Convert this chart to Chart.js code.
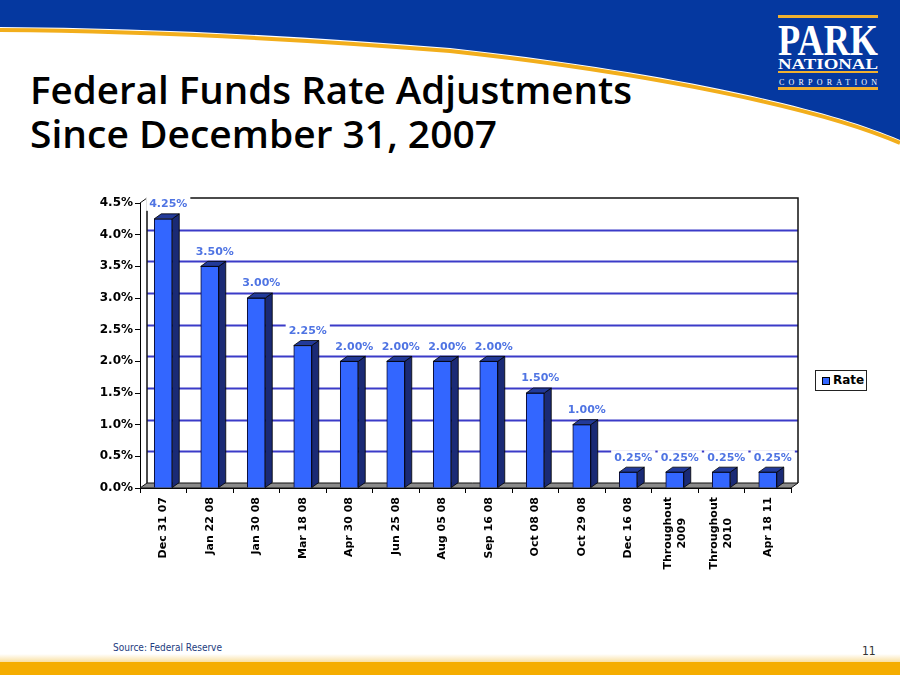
<!DOCTYPE html>
<html>
<head>
<meta charset="utf-8">
<script src="https://cdn.jsdelivr.net/npm/chart.js@4"></script>
<style>
  html, body { margin: 0; padding: 0; background: #fff; }
  #page { position: relative; width: 900px; height: 675px; overflow: hidden; }
  #bg { position: absolute; left: 0; top: 0; }
  #chart { position: absolute; left: 0; top: 0; }
  #legend {
    position: absolute; left: 815px; top: 370px; width: 50px; height: 19px;
    border: 1px solid #222; font: bold 12px "DejaVu Sans", sans-serif;
    line-height: 19px; color: #000; background: #fff;
  }
  #legend span.box {
    position: absolute; left: 6px; top: 6px; width: 6px; height: 6px;
    background: #3366ff; border: 1px solid #000;
  }
  #legend span.txt { position: absolute; left: 17px; top: 0; }
</style>
</head>
<body>
<div id="page">
  <svg id="bg" width="900" height="675" xmlns="http://www.w3.org/2000/svg">
    <defs>
      <linearGradient id="fade" x1="0" y1="0" x2="0" y2="1">
        <stop offset="0" stop-color="#ffffff"/>
        <stop offset="1" stop-color="#f9dc95"/>
      </linearGradient>
    </defs>
    <!-- header swoosh -->
    <path d="M0,0 H900 V140 C820,105 650,70 450,48 C300,36 150,28 0,27 Z" fill="#0538a0"/>
    <path d="M900,143 C820,108 650,73 450,51 C300,39 150,31 0,30" fill="none" stroke="#f2ae1c" stroke-width="4"/>
    <!-- logo -->
    <rect x="778" y="15" width="100" height="3" fill="#f0b030"/>
    <text x="778" y="55" font-family="Liberation Serif" font-weight="bold" font-size="44" fill="#fff" textLength="100" lengthAdjust="spacingAndGlyphs">PARK</text>
    <text x="778" y="68.5" font-family="Liberation Serif" font-weight="bold" font-size="15" fill="#fff" textLength="100" lengthAdjust="spacingAndGlyphs">NATIONAL</text>
    <rect x="778" y="71" width="100" height="2" fill="#f0b030"/>
    <text x="779" y="84.5" font-family="Liberation Serif" font-size="8" fill="#fff" textLength="98" lengthAdjust="spacing">CORPORATION</text>
    <rect x="778" y="87" width="100" height="3" fill="#f0b030"/>
    <!-- title -->
    <text x="30" y="104" font-family="Open Sans" font-weight="600" font-size="37" fill="#000" textLength="602" lengthAdjust="spacingAndGlyphs">Federal Funds Rate Adjustments</text>
    <text x="30" y="148" font-family="Open Sans" font-weight="600" font-size="37" fill="#000" textLength="467" lengthAdjust="spacingAndGlyphs">Since December 31, 2007</text>
    <!-- footer -->
    <rect x="0" y="654" width="900" height="9" fill="url(#fade)"/>
    <rect x="0" y="662" width="900" height="13" fill="#f5ad00"/>
    <text x="113" y="651" font-family="DejaVu Sans Condensed" font-size="10" fill="#1d3c80" textLength="109" lengthAdjust="spacingAndGlyphs">Source: Federal Reserve</text>
    <text x="862" y="655" font-family="DejaVu Sans Condensed" font-size="12" fill="#333">11</text>
  </svg>
  <canvas id="chart" width="900" height="675"></canvas>
  <div id="legend"><span class="box"></span><span class="txt">Rate</span></div>
</div>
<script>
// chart data
const dates = ["Dec 31 07", "Jan 22 08", "Jan 30 08", "Mar 18 08", "Apr 30 08", "Jun 25 08",
               "Aug 05 08", "Sep 16 08", "Oct 08 08", "Oct 29 08", "Dec 16 08",
               ["Throughout", "2009"], ["Throughout", "2010"], "Apr 18 11"];
const rates = [4.25, 3.50, 3.00, 2.25, 2.00, 2.00, 2.00, 2.00, 1.50, 1.00, 0.25, 0.25, 0.25, 0.25];
const yTicks = [0, 0.5, 1.0, 1.5, 2.0, 2.5, 3.0, 3.5, 4.0, 4.5];

const DX = 7, DY = 5;

// back wall, floor, side/top faces, value labels, rotated category labels
const fake3d = {
    id: "fake3d",
    beforeDatasetsDraw(chart) {
        const ctx = chart.ctx;
        const {left, right, top, bottom} = chart.chartArea;
        const y = chart.scales.y;
        ctx.save();
        // floor
        ctx.beginPath();
        ctx.moveTo(left, bottom);
        ctx.lineTo(right, bottom);
        ctx.lineTo(right + DX, bottom - DY);
        ctx.lineTo(left + DX, bottom - DY);
        ctx.closePath();
        ctx.fillStyle = "#8a8a8a";
        ctx.fill();
        ctx.strokeStyle = "#111";
        ctx.lineWidth = 1;
        ctx.stroke();
        // gridlines on back wall
        ctx.strokeStyle = "#3b3bc8";
        ctx.lineWidth = 2;
        yTicks.forEach(function (v) {
            if (v === 0 || v === 4.5) return;
            const py = Math.round(y.getPixelForValue(v) - DY) + 0.5;
            ctx.beginPath();
            ctx.moveTo(left + DX, py);
            ctx.lineTo(right + DX, py);
            ctx.stroke();
        });
        // wall outline
        ctx.strokeStyle = "#111";
        ctx.lineWidth = 1.5;
        ctx.beginPath();
        ctx.moveTo(left + DX, bottom - DY);
        ctx.lineTo(left + DX, top - DY);
        ctx.lineTo(right + DX, top - DY);
        ctx.lineTo(right + DX, bottom - DY);
        ctx.stroke();
        ctx.lineWidth = 1;
        ctx.beginPath();
        ctx.moveTo(left, top);
        ctx.lineTo(left + DX, top - DY);
        ctx.stroke();
        ctx.restore();
    },
    afterDatasetsDraw(chart) {
        const ctx = chart.ctx;
        const meta = chart.getDatasetMeta(0);
        const data = chart.data.datasets[0].data;
        ctx.save();
        ctx.strokeStyle = "#000";
        ctx.lineWidth = 0.8;
        meta.data.forEach(function (bar) {
            const l = bar.x - bar.width / 2, r = bar.x + bar.width / 2;
            // side
            ctx.beginPath();
            ctx.moveTo(r, bar.y);
            ctx.lineTo(r + DX, bar.y - DY);
            ctx.lineTo(r + DX, bar.base - DY);
            ctx.lineTo(r, bar.base);
            ctx.closePath();
            ctx.fillStyle = "#1a2a75";
            ctx.fill();
            ctx.stroke();
            // top
            ctx.beginPath();
            ctx.moveTo(l, bar.y);
            ctx.lineTo(l + DX, bar.y - DY);
            ctx.lineTo(r + DX, bar.y - DY);
            ctx.lineTo(r, bar.y);
            ctx.closePath();
            ctx.fillStyle = "#223a9a";
            ctx.fill();
            ctx.stroke();
        });
        // value labels
        ctx.font = "bold 11px 'DejaVu Sans'";
        ctx.textAlign = "center";
        ctx.textBaseline = "middle";
        meta.data.forEach(function (bar, i) {
            const txt = data[i].toFixed(2) + "%";
            const w = ctx.measureText(txt).width;
            const cx = bar.x + 5, cy = bar.y - 15;
            ctx.fillStyle = "#fff";
            ctx.fillRect(cx - w / 2 - 3, cy - 7, w + 6, 14);
            ctx.fillStyle = "#4f74e3";
            ctx.fillText(txt, cx, cy + 0.5);
        });
        ctx.restore();
    },
    afterDraw(chart) {
        const ctx = chart.ctx;
        const x = chart.scales.x;
        const bottom = chart.chartArea.bottom;
        ctx.save();
        ctx.font = "bold 11px 'DejaVu Sans'";
        ctx.fillStyle = "#000";
        ctx.textAlign = "center";
        ctx.textBaseline = "middle";
        chart.data.labels.forEach(function (lab, i) {
            const lines = Array.isArray(lab) ? lab : [lab];
            const maxW = Math.max.apply(null, lines.map(function (s) { return ctx.measureText(s).width; }));
            ctx.save();
            ctx.translate(x.getPixelForValue(i), bottom + 9);
            ctx.rotate(-Math.PI / 2);
            lines.forEach(function (s, j) {
                ctx.fillText(s, -maxW / 2, (j - (lines.length - 1) / 2) * 14);
            });
            ctx.restore();
        });
        ctx.restore();
    }
};

new Chart(document.getElementById("chart").getContext("2d"), {
    type: "bar",
    data: {
        labels: dates,
        datasets: [{
            label: "Rate",
            data: rates,
            backgroundColor: "#3366ff",
            borderColor: "#0a0a30",
            borderWidth: 1,
            barThickness: 18
        }]
    },
    options: {
        responsive: false,
        animation: false,
        events: [],
        layout: { padding: { top: 203, right: 109, bottom: 0, left: 0 } },
        plugins: { legend: { display: false }, tooltip: { enabled: false } },
        scales: {
            x: {
                afterFit: function (scale) { scale.height = 187; },
                grid: { drawOnChartArea: false, drawTicks: true, tickLength: 5, color: "#000", offset: true },
                border: { display: true, color: "#000", width: 1 },
                ticks: { display: false }
            },
            y: {
                min: 0,
                max: 4.5,
                afterFit: function (scale) { scale.width = 140; },
                afterBuildTicks: function (scale) {
                    scale.ticks = yTicks.map(function (v) { return { value: v }; });
                },
                grid: { drawOnChartArea: false, drawTicks: true, tickLength: 5, color: "#000" },
                border: { display: true, color: "#000", width: 1 },
                ticks: {
                    padding: 2,
                    color: "#000",
                    font: { family: "DejaVu Sans", weight: "bold", size: 12 },
                    callback: function (v) { return v.toFixed(1) + "%"; }
                }
            }
        }
    },
    plugins: [fake3d]
});
</script>
</body>
</html>
